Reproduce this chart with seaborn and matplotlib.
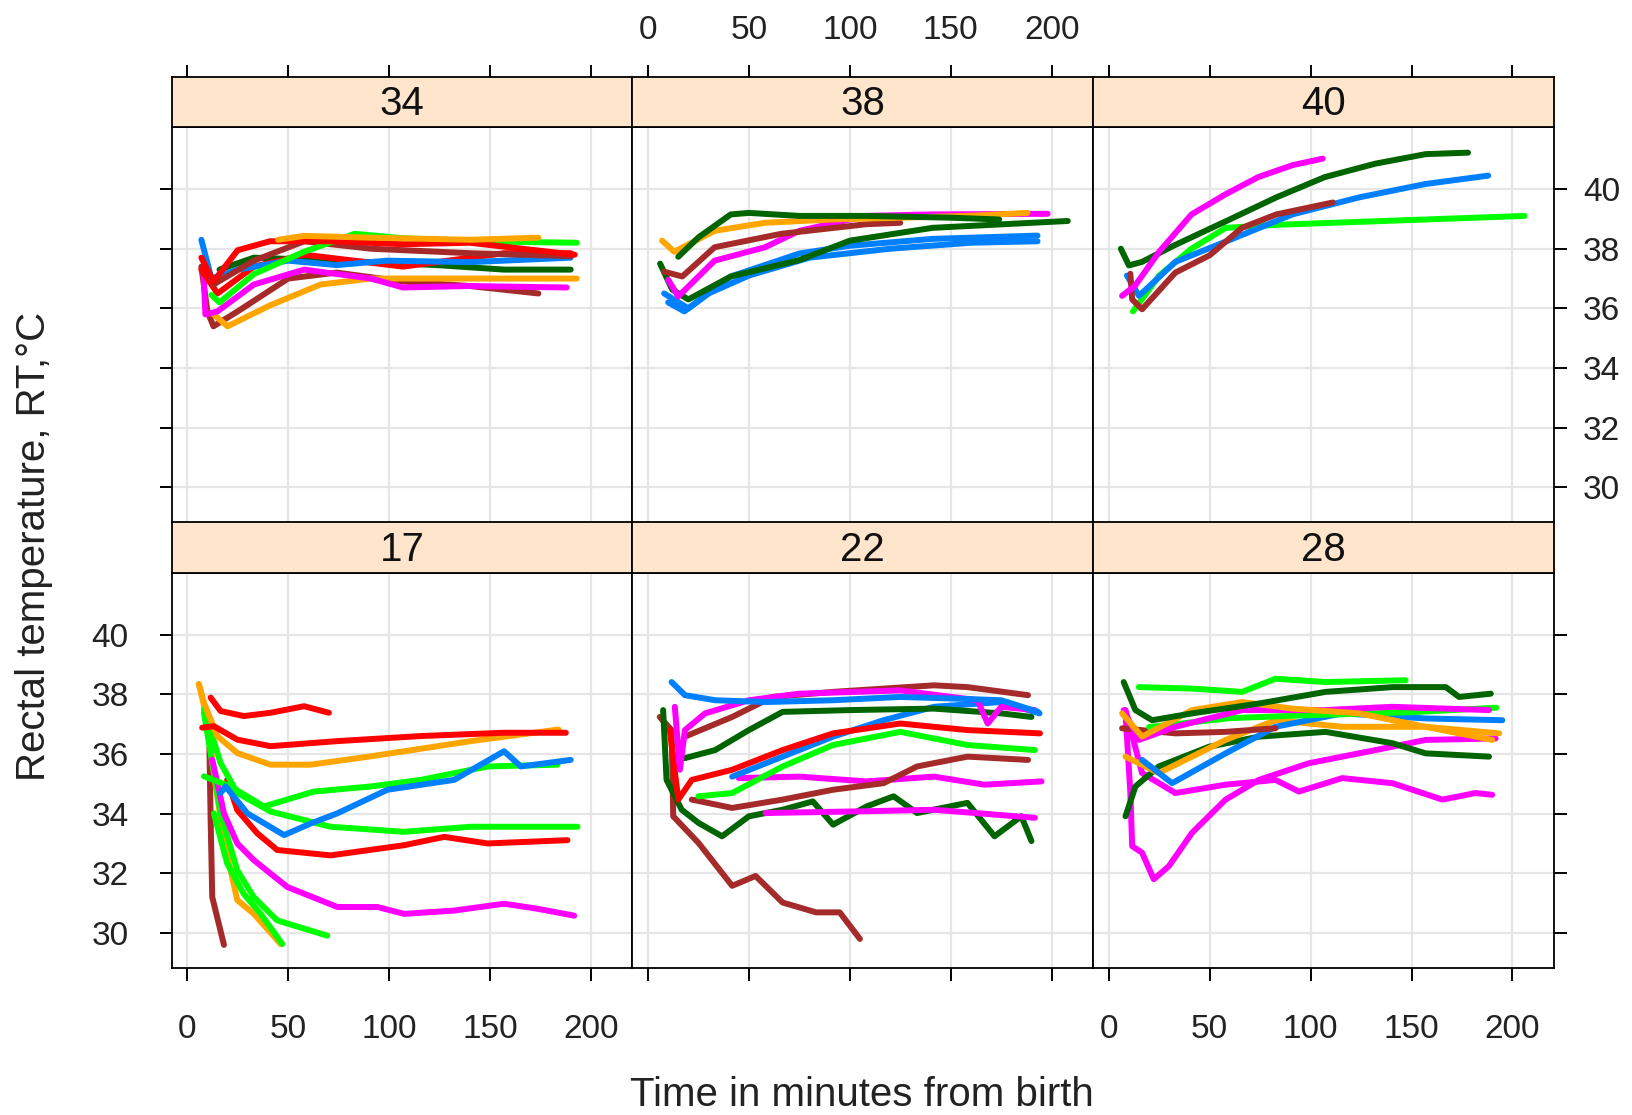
import matplotlib
matplotlib.use("Agg")
import matplotlib.pyplot as plt
import pandas as pd
import seaborn as sns

# ---------------- data ----------------
panel_order = ["34", "38", "40", "17", "22", "28"]
x_ticks = [0, 50, 100, 150, 200]
y_ticks = [30, 32, 34, 36, 38, 40]

line_colors = {"blue": "#0080ff", "magenta": "#ff00ff", "darkgreen": "#006400",
               "red": "#ff0000", "orange": "#ffa500", "green": "#00ff00", "brown": "#a52a2a"}

panel_34 = [
    ("brown", [7, 10, 13, 25, 50, 74, 107, 140, 174], [37.4, 35.9, 35.4, 35.9, 37.0, 37.2, 36.9, 36.75, 36.5]),
    ("orange", [13, 20, 41, 66, 91, 140, 193], [35.8, 35.4, 36.1, 36.8, 37.0, 37.0, 37.0]),
    ("magenta", [8, 9, 15, 33, 58, 91, 107, 140, 188], [37.3, 35.8, 35.9, 36.8, 37.3, 37.0, 36.7, 36.75, 36.7]),
    ("darkgreen", [16, 33, 74, 124, 157, 190], [37.3, 37.7, 37.6, 37.45, 37.3, 37.3]),
    ("red", [7, 15, 33, 58, 107, 157, 190], [37.3, 36.5, 37.4, 37.8, 37.4, 37.85, 37.85]),
    ("blue", [7, 12, 25, 50, 74, 99, 140, 190], [38.3, 37.0, 37.3, 37.6, 37.45, 37.6, 37.55, 37.7]),
    ("brown", [13, 33, 58, 91, 140, 190], [36.8, 37.6, 38.25, 38.0, 37.85, 37.75]),
    ("green", [12, 16, 33, 58, 83, 107, 140, 193], [36.45, 36.2, 37.15, 37.9, 38.5, 38.35, 38.25, 38.2]),
    ("red", [7, 13, 25, 41, 74, 107, 140, 192], [37.7, 36.9, 37.95, 38.25, 38.25, 38.15, 38.2, 37.8]),
    ("orange", [45, 58, 91, 140, 174], [38.3, 38.43, 38.37, 38.3, 38.37]),
]

panel_38 = [
    ("blue", [10, 18, 30, 50, 80, 120, 160, 193], [36.2, 35.9, 36.5, 37.1, 37.7, 38.0, 38.2, 38.25]),
    ("blue", [8, 20, 41, 75, 100, 141, 193], [36.5, 36.0, 37.07, 37.84, 38.1, 38.33, 38.44]),
    ("darkgreen", [6, 12, 20, 41, 75, 100, 141, 208], [37.5, 36.63, 36.3, 37.07, 37.62, 38.27, 38.7, 38.93]),
    ("magenta", [10, 15, 33, 58, 75, 108, 141, 198], [36.96, 36.4, 37.6, 38.05, 38.6, 39.1, 39.15, 39.17]),
    ("brown", [8, 17, 33, 66, 108, 125], [37.23, 37.07, 38.05, 38.5, 38.82, 38.87]),
    ("orange", [7, 13, 33, 58, 91, 125, 158, 188], [38.27, 37.9, 38.6, 38.87, 38.98, 39.04, 39.1, 39.2]),
    ("darkgreen", [15, 25, 41, 50, 75, 108, 150, 174], [37.73, 38.38, 39.15, 39.2, 39.1, 39.1, 39.04, 38.98]),
]

panel_40 = [
    ("green", [12, 25, 41, 58, 83, 107, 157, 206], [35.9, 37.1, 38.0, 38.7, 38.8, 38.86, 38.98, 39.1]),
    ("blue", [9, 15, 33, 58, 91, 124, 157, 188], [37.1, 36.42, 37.56, 38.24, 39.15, 39.72, 40.17, 40.45]),
    ("brown", [10.7, 11.6, 16.5, 33, 50, 66, 83, 111], [37.16, 36.3, 35.97, 37.2, 37.78, 38.7, 39.15, 39.55]),
    ("darkgreen", [6, 10, 16.5, 33, 58, 83, 107, 132, 157, 178], [38.0, 37.44, 37.56, 38.13, 38.92, 39.72, 40.4, 40.85, 41.17, 41.22]),
    ("magenta", [6.6, 13, 25, 41, 58, 74, 91, 106], [36.42, 36.76, 37.9, 39.15, 39.83, 40.4, 40.8, 41.02]),
]

panel_17 = [
    ("brown", [11, 11.6, 12.4, 18.2], [36.2, 33.8, 31.2, 29.6]),
    ("orange", [5.8, 9.9, 13.2, 18.2, 24.8, 33, 46.3], [38.34, 37.16, 35.36, 33.1, 31.1, 30.64, 29.63]),
    ("green", [13.2, 19.8, 28, 36.4, 47.1], [34.01, 32.33, 31.31, 30.64, 29.63]),
    ("green", [8.3, 16.5, 24.8, 33, 44.6, 69.4], [37.38, 34.01, 32.1, 31.2, 30.42, 29.91]),
    ("magenta", [12.4, 18.2, 24.8, 33, 49.6, 74.4, 94.2, 107.4, 132.2, 157, 173.6, 191.7],
     [35.81, 34.01, 33.0, 32.44, 31.54, 30.87, 30.87, 30.64, 30.75, 30.98, 30.81, 30.58]),
    ("red", [19.8, 24.8, 34.7, 44.6, 71, 107.4, 127.3, 148.8, 188.4], [35.13, 34.12, 33.34, 32.78, 32.6, 32.94, 33.22, 33.0, 33.11]),
    ("green", [8.3, 16.5, 24.8, 41.3, 71, 107.4, 140.5, 193.4], [37.49, 35.7, 34.69, 34.07, 33.56, 33.39, 33.56, 33.56]),
    ("green", [8.3, 21.5, 38, 62.8, 91, 115.7, 148.8, 183.5], [35.25, 34.91, 34.24, 34.74, 34.91, 35.13, 35.58, 35.64]),
    ("blue", [16.5, 19, 29.8, 48, 61.2, 74.4, 99.2, 132.2, 157, 165.3, 190],
     [34.69, 34.91, 34.01, 33.28, 33.67, 34.01, 34.8, 35.13, 36.09, 35.58, 35.8]),
    ("orange", [5.8, 8.3, 14.9, 24.8, 41.3, 61, 91, 140.5, 184], [38.34, 37.72, 36.6, 36.03, 35.64, 35.64, 35.92, 36.43, 36.82]),
    ("red", [7.4, 13.2, 24.8, 41.3, 74.4, 115.7, 157, 187.6], [36.88, 36.93, 36.48, 36.26, 36.43, 36.6, 36.71, 36.71]),
    ("red", [11.6, 16.5, 28, 41.3, 57.9, 70.2], [37.89, 37.44, 37.27, 37.38, 37.6, 37.38]),
]

panel_22 = [
    ("brown", [5.8, 11.7, 12.5, 25, 41.7, 53.3, 66.7, 83.3, 95, 105], [37.24, 36.8, 33.91, 33.02, 31.58, 31.91, 31.02, 30.69, 30.69, 29.8]),
    ("darkgreen", [7.5, 9.2, 16.7, 25, 36.7, 50, 66.7, 81.7, 91.7, 108.3, 121.7, 133.3, 158.3, 171.7, 185, 190],
     [37.47, 35.13, 34.13, 33.69, 33.24, 33.91, 34.13, 34.41, 33.63, 34.24, 34.58, 34.02, 34.36, 33.24, 33.91, 33.08]),
    ("magenta", [58.3, 108.3, 141.7, 191.7], [34.02, 34.08, 34.13, 33.86]),
    ("magenta", [45, 75, 108.3, 141.7, 166.7, 195], [35.19, 35.24, 35.08, 35.24, 34.97, 35.08]),
    ("brown", [21.7, 41.7, 66.7, 91.7, 116.7, 133.3, 158.3, 188.3], [34.47, 34.19, 34.47, 34.8, 35.02, 35.58, 35.91, 35.8]),
    ("green", [25, 41.7, 66.7, 91.7, 125, 158.3, 191.7], [34.58, 34.69, 35.58, 36.3, 36.74, 36.3, 36.13]),
    ("blue", [41.7, 66.7, 91.7, 116.7, 141.7, 175, 194], [35.24, 35.91, 36.58, 37.13, 37.58, 37.74, 37.36]),
    ("red", [10.8, 15, 21.7, 41.7, 66.7, 91.7, 125, 158.3, 194.2], [36.8, 34.47, 35.13, 35.47, 36.13, 36.69, 37.02, 36.8, 36.69]),
    ("darkgreen", [18.3, 33.3, 50, 66.7, 100, 141.7, 175, 190], [35.86, 36.13, 36.8, 37.41, 37.47, 37.52, 37.36, 37.24]),
    ("brown", [18.3, 41.7, 61.7, 91.7, 141.7, 158.3, 188.3], [36.58, 37.24, 37.91, 38.08, 38.3, 38.24, 37.97]),
    ("magenta", [13.3, 15.8, 18.3, 28.3, 50, 75, 125, 163.3, 168.3, 175, 191.7],
     [37.58, 35.47, 36.8, 37.36, 37.8, 38.02, 38.13, 37.8, 37.02, 37.58, 37.47]),
    ("blue", [11.7, 18.3, 33.3, 58.3, 91.7, 125, 150, 175, 193.3], [38.41, 37.97, 37.8, 37.74, 37.8, 37.91, 37.86, 37.8, 37.41]),
]

panel_28 = [
    ("magenta", [8.3, 10.7, 11.6, 16.5, 22.3, 29.8, 41.3, 57.9, 74.4, 99.2, 132.2, 157, 191.7],
     [37.36, 34.69, 32.91, 32.69, 31.8, 32.24, 33.36, 34.47, 35.13, 35.69, 36.13, 36.47, 36.52]),
    ("magenta", [8.3, 16.5, 33, 57.9, 82.6, 94.2, 115.7, 140.5, 165.3, 181.8, 190],
     [37.47, 35.36, 34.69, 34.97, 35.13, 34.74, 35.19, 35.02, 34.47, 34.69, 34.63]),
    ("darkgreen", [8.3, 13.2, 24.8, 49.6, 74.4, 107.4, 140.5, 157, 188.4], [33.91, 34.91, 35.58, 36.24, 36.58, 36.74, 36.36, 36.02, 35.91]),
    ("orange", [8.3, 24.8, 57.9, 82.6, 115.7, 157, 190], [35.91, 35.36, 36.47, 37.13, 36.91, 36.91, 36.47]),
    ("blue", [16.5, 31.4, 57.9, 82.6, 115.7, 157, 195], [35.8, 35.02, 36.02, 36.91, 37.36, 37.19, 37.13]),
    ("brown", [6.6, 33, 57.9, 82.6], [36.86, 36.69, 36.74, 36.86]),
    ("green", [20, 60, 100, 150, 192], [36.9, 37.2, 37.3, 37.4, 37.55]),
    ("magenta", [7.4, 14.9, 33, 66.1, 107.4, 140.5, 188.4], [37.47, 36.47, 36.91, 37.47, 37.47, 37.58, 37.47]),
    ("orange", [6.6, 16.5, 41.3, 66.1, 91, 124, 157, 193.4], [37.36, 36.58, 37.47, 37.74, 37.52, 37.36, 36.91, 36.69]),
    ("darkgreen", [7.4, 13.2, 21.5, 41.3, 74.4, 107.4, 140.5, 167, 173.6, 189.3],
     [38.41, 37.47, 37.13, 37.36, 37.69, 38.08, 38.24, 38.24, 37.91, 38.02]),
    ("green", [14.9, 41.3, 66.1, 82.6, 107.4, 147.1], [38.24, 38.19, 38.08, 38.52, 38.41, 38.47]),
]

panels = {"34": panel_34, "38": panel_38, "40": panel_40,
          "17": panel_17, "22": panel_22, "28": panel_28}

# ---------------- long table ----------------
rows = []
for pname, lines in panels.items():
    for i, (col, ts, vs) in enumerate(lines):
        for t, v in zip(ts, vs):
            rows.append({"panel": pname, "line": f"{pname}_{i}", "color": col, "t": t, "temp": v})
df = pd.DataFrame(rows)

# ---------------- figure ----------------
sns.set_theme(style="white")
plt.rcParams["font.family"] = ["Liberation Sans", "DejaVu Sans"]

fig = plt.figure(figsize=(16.32, 11.15), dpi=100)

L, R = 0.1052, 0.9522
W = (R - L) / 3
panel_h = 0.3548
strip_h = 0.0452
row_bottoms = [0.5313, 0.1317]
XLIM = (-7.7, 220.6)
YLIM = (28.82, 42.08)
tick_len = 9
tick_fs = 24
STRIP = "#ffe5cc"

for idx, pname in enumerate(panel_order):
    r, c = divmod(idx, 3)
    x0 = L + c * W
    y0 = row_bottoms[r]
    ax = fig.add_axes([x0, y0, W, panel_h])
    sax = fig.add_axes([x0, y0 + panel_h, W, strip_h])

    sub = df[df["panel"] == pname]
    pal = {ln: line_colors[cl] for ln, cl in sub[["line", "color"]].drop_duplicates().itertuples(index=False)}
    sns.lineplot(data=sub, x="t", y="temp", hue="line", units="line", estimator=None,
                 sort=False, palette=pal, legend=False, lw=4.3, ax=ax,
                 solid_capstyle="round", solid_joinstyle="round")

    ax.set_xlim(XLIM)
    ax.set_ylim(YLIM)
    ax.set_xticks(x_ticks)
    ax.set_yticks(y_ticks)
    ax.grid(True, color="#e6e6e6", lw=1.6)
    ax.set_axisbelow(True)
    ax.set_xlabel("")
    ax.set_ylabel("")
    for sp in ax.spines.values():
        sp.set_color("black")
        sp.set_linewidth(1.3)

    ax.tick_params(axis="x", direction="out", length=tick_len, width=1.4, color="black",
                   labelsize=tick_fs, pad=24, labelcolor="#222222",
                   bottom=(r == 1), labelbottom=(r == 1 and c != 1),
                   top=False, labeltop=False)
    ax.tick_params(axis="y", direction="out", length=tick_len, width=1.4, color="black",
                   labelsize=tick_fs, pad=(22 if c == 0 else 12), labelcolor="#222222",
                   left=(c == 0), labelleft=(r == 1 and c == 0),
                   right=(c == 2), labelright=(r == 0 and c == 2))

    # strip
    sax.set_facecolor(STRIP)
    sax.set_xlim(XLIM)
    sax.set_ylim(0, 1)
    sax.set_yticks([])
    sax.set_xticks(x_ticks)
    sax.tick_params(axis="x", direction="out", length=tick_len, width=1.4, color="black",
                    labelsize=tick_fs, pad=13, labelcolor="#222222",
                    bottom=False, labelbottom=False,
                    top=(r == 0), labeltop=(r == 0 and c == 1))
    for sp in sax.spines.values():
        sp.set_color("black")
        sp.set_linewidth(1.3)
    sax.text(0.5, 0.45, pname, transform=sax.transAxes, ha="center", va="center",
             fontsize=29, color="#111111")

fig.text(0.528, 0.018, "Time in minutes from birth", ha="center", va="center", fontsize=29, color="#222222")
fig.text(0.021, 0.51, "Rectal temperature, RT,\u00b0C", ha="center", va="center", rotation=90,
         fontsize=29, color="#222222")

fig.savefig("out.png", dpi=100, facecolor="white")
